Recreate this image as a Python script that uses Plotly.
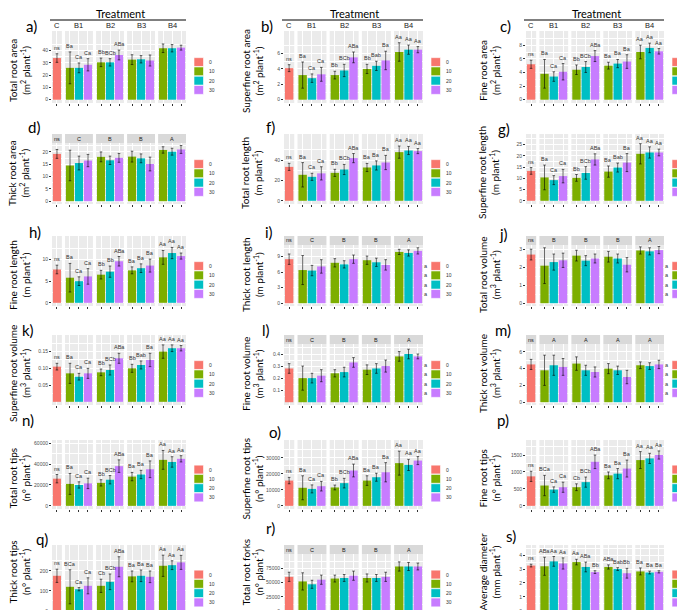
import plotly.graph_objects as go

W, H = 685, 610
DOSES = ["0", "10", "20", "30"]
COLORS = ["#F8766D", "#7CAE00", "#00BFC4", "#C77CFF"]
GROUPS = ["C", "B1", "B2", "B3", "B4"]

# order of values: C(0); B1(10,20,30); B2(10,20,30); B3(10,20,30); B4(10,20,30)
a_mean = [34, 26, 26, 28.5, 30.5, 30.5, 36.5, 32.7, 33, 32, 42, 42, 42.5]
a_err = [3.5, 13, 4, 5, 3.5, 3, 4, 4, 3, 4.5, 3.5, 3, 2]
a_lab = ["ns", "Ba", "Ca", "Ca", "Bb", "BCb", "ABa", "", "", "", "", "", ""]

b_mean = [4.1, 3.2, 2.8, 3.3, 3.2, 3.8, 5.5, 4.0, 4.4, 5.1, 6.2, 6.5, 6.5]
b_err = [0.45, 1.7, 0.55, 0.9, 0.5, 0.8, 0.7, 0.6, 0.6, 1.2, 1.2, 0.6, 0.4]
b_lab = ["ns", "Ba", "Ca", "Ca", "Bb", "BCb", "ABa", "Bb", "Bab", "Ba", "Aa", "Aa", "Aa"]

c_mean = [5.2, 3.8, 3.4, 4.1, 4.4, 4.8, 6.4, 5.0, 5.3, 5.6, 7.0, 7.6, 7.1]
c_err = [0.6, 2.1, 0.7, 1.2, 0.7, 0.8, 0.8, 0.5, 0.6, 1.0, 1.0, 0.7, 0.4]
c_lab = ["ns", "Ba", "Ca", "Ca", "Bb", "BCb", "ABa", "Ba", "Ba", "Ba", "Aa", "Aa", "Aa"]

d_mean = [19.2, 14.5, 15.5, 16.5, 18, 16.6, 17.6, 18.1, 17.4, 15.1, 20.8, 20.1, 21]
d_err = [1.8, 6.2, 2.8, 2.5, 2, 1.7, 1.8, 2.2, 1.8, 2.8, 1.3, 1.4, 1.6]
d_strip = ["ns", "C", "B", "B", "A"]

f_mean = [33.4, 25.6, 23.6, 27, 27.5, 30.8, 42, 32.8, 34.8, 37.7, 47.9, 49.5, 48.9]
f_err = [3.5, 12, 3.5, 6.5, 3.5, 5, 4.5, 4, 4.5, 7, 6, 4, 2.5]
f_lab = ["ns", "Ba", "Ca", "Ca", "Bb", "BCb", "ABa", "Ba", "Ba", "Ba", "Aa", "Aa", "Aa"]

g_mean = [13.3, 10.4, 9.2, 11, 10.2, 12.4, 18.4, 13, 14.8, 17, 20.9, 21.5, 21.5]
g_err = [1.5, 5.5, 2, 3, 1.5, 2.8, 2.5, 2.5, 2, 4, 4.5, 2.5, 1.5]
g_lab = ["ns", "Ba", "Ca", "Ca", "Bb", "BCb", "ABa", "Ba", "Bab", "Ba", "Aa", "Aa", "Aa"]

h_mean = [7.7, 5.8, 5.0, 6.1, 6.5, 7.2, 9.6, 7.5, 8.0, 8.6, 10.5, 11.5, 10.8]
h_err = [1, 3.3, 1, 1.8, 1, 1.3, 1.1, 0.8, 1, 1.5, 1.6, 1.3, 0.7]
h_lab = ["ns", "Ba", "Ca", "Ca", "Bb", "Bb", "ABa", "Ba", "Ba", "Ba", "Aa", "Aa", "Aa"]

i_mean = [8.5, 6.4, 6.3, 7.1, 7.8, 7.5, 8.5, 8.3, 7.9, 7.4, 9.9, 9.7, 10.1]
i_err = [1, 2.8, 1, 1.3, 0.8, 0.7, 0.8, 0.8, 0.8, 1, 0.5, 0.6, 0.6]
i_strip = ["ns", "C", "B", "B", "A"]

j_mean = [2.72, 2.1, 2.3, 2.4, 2.66, 2.38, 2.5, 2.6, 2.5, 2.15, 2.95, 2.9, 2.97]
j_err = [0.3, 1.0, 0.45, 0.4, 0.3, 0.28, 0.25, 0.3, 0.25, 0.4, 0.2, 0.2, 0.2]
j_strip = ["ns", "B", "B", "B", "A"]

k_mean = [0.105, 0.085, 0.075, 0.085, 0.088, 0.095, 0.13, 0.10, 0.11, 0.125, 0.15, 0.16, 0.16]
k_err = [0.01, 0.03, 0.01, 0.015, 0.01, 0.015, 0.015, 0.012, 0.012, 0.02, 0.02, 0.01, 0.008]
k_lab = ["ns", "Ba", "Ca", "Ca", "Bb", "BCb", "ABa", "Bb", "Bab", "Ba", "Aa", "Aa", "Aa"]

l_mean = [0.28, 0.2, 0.2, 0.22, 0.24, 0.25, 0.33, 0.27, 0.28, 0.3, 0.38, 0.4, 0.38]
l_err = [0.04, 0.1, 0.04, 0.05, 0.03, 0.04, 0.04, 0.04, 0.04, 0.05, 0.04, 0.04, 0.02]
l_strip = ["ns", "C", "B", "B", "A"]

m_mean = [4.5, 3.8, 4.4, 4.2, 4.6, 3.8, 3.6, 4.0, 3.8, 3.0, 4.4, 4.3, 4.5]
m_err = [0.6, 1.8, 1.2, 1.0, 0.8, 0.6, 0.6, 0.6, 0.5, 0.8, 0.4, 0.4, 0.5]
m_strip = ["ns", "A", "A", "A", "A"]

n_mean = [26000, 21000, 20000, 21500, 22000, 25000, 38000, 28000, 30000, 35000, 44000, 42000, 45000]
n_err = [4000, 10000, 3000, 5000, 3000, 4000, 6000, 4000, 4000, 8000, 9000, 5000, 3000]
n_lab = ["ns", "Ba", "Ca", "Ca", "Bb", "BCb", "ABa", "Ba", "Ba", "Ba", "Aa", "Aa", "Aa"]

o_mean = [15800, 11300, 10600, 12300, 11500, 14200, 22100, 15800, 17900, 21000, 26700, 25600, 28300]
o_err = [2000, 7500, 2500, 3000, 1500, 3000, 4000, 3000, 2500, 6000, 7500, 3500, 2500]
o_lab = ["ns", "Ba", "Ca", "Ca", "Bb", "BCb", "ABa", "Ba", "Ba", "Ba", "Aa", "Aa", "Aa"]

p_mean = [870, 600, 480, 550, 550, 700, 1300, 900, 950, 1100, 1350, 1400, 1500]
p_err = [150, 300, 80, 150, 100, 150, 200, 100, 150, 250, 250, 150, 120]
p_lab = ["ns", "BCa", "Ca", "Ca", "Cb", "BCb", "ABa", "Ba", "Ba", "Ba", "Aa", "Aa", "Aa"]

q_mean = [175, 120, 108, 125, 125, 145, 220, 172, 175, 170, 225, 228, 242]
q_err = [33, 85, 8, 40, 33, 39, 50, 27, 29, 29, 53, 22, 35]
q_lab = ["ns", "BCa", "Ca", "Ca", "Cb", "BCb", "ABa", "Ba", "Ba", "Ba", "Aa", "Aa", "Aa"]

r_mean = [60000, 52000, 47000, 55000, 57000, 58000, 62000, 58000, 58000, 60000, 78000, 78000, 78000]
r_err = [8000, 15000, 7000, 8000, 6000, 6000, 8000, 7000, 6000, 8000, 8000, 7000, 6000]
r_strip = ["ns", "C", "B", "B", "A"]

s_mean = [3.25, 3.2, 3.55, 3.4, 3.5, 3.15, 2.78, 3.15, 3.0, 2.7, 2.83, 2.75, 2.8]
s_err = [0.1, 0.65, 0.35, 0.4, 0.2, 0.35, 0.1, 0.15, 0.1, 0.35, 0.25, 0.1, 0.08]
s_lab = ["ns", "ABa", "Aa", "Aa", "Aa", "ABa", "Bb", "ABa", "Bab", "Bb", "Ba", "Ba", "Ba"]

A2 = "(m<sup>2</sup> plant<sup>-1</sup>)"
A3 = "(m<sup>3</sup> plant<sup>-1</sup>)"
LEN = "(m plant<sup>-1</sup>)"
NUM = "(n° plant<sup>-1</sup>)"

panels = [
    dict(tag="a)", t1="Total root area", t2=A2, mean=a_mean, err=a_err, lab=a_lab, ticks=[0, 10, 20, 30, 40], M=53.4),
    dict(tag="b)", t1="Superfine root area", t2=A2, mean=b_mean, err=b_err, lab=b_lab, ticks=[0, 2, 4, 6], M=8.5),
    dict(tag="c)", t1="Fine root area", t2=A2, mean=c_mean, err=c_err, lab=c_lab, ticks=[0, 2, 4, 6, 8], M=9.6),
    dict(tag="d)", t1="Thick root area", t2=A2, mean=d_mean, err=d_err, strip=d_strip, ticks=[0, 5, 10, 15, 20], M=22.5),
    dict(tag="f)", t1="Total root length", t2=LEN, mean=f_mean, err=f_err, lab=f_lab, ticks=[0, 20, 40], M=62.6),
    dict(tag="g)", t1="Superfine root length", t2=LEN, mean=g_mean, err=g_err, lab=g_lab, ticks=[0, 5, 10, 15, 20, 25], M=28.3),
    dict(tag="h)", t1="Fine root length", t2=LEN, mean=h_mean, err=h_err, lab=h_lab, ticks=[0, 5, 10], M=14.7),
    dict(tag="i)", t1="Thick root length", t2=LEN, mean=i_mean, err=i_err, strip=i_strip, ticks=[0, 3, 6, 9], M=10.7, amark=True),
    dict(tag="j)", t1="Total root volume", t2=A3, mean=j_mean, err=j_err, strip=j_strip, ticks=[0, 1, 2, 3], M=3.1, amark=True),
    dict(tag="k)", t1="Superfine root volume", t2=A3, mean=k_mean, err=k_err, lab=k_lab, ticks=[0.05, 0.10, 0.15], M=0.19, fmt=".2f"),
    dict(tag="l)", t1="Fine root volume", t2=A3, mean=l_mean, err=l_err, strip=l_strip, ticks=[0.1, 0.2, 0.3, 0.4], M=0.46, fmt=".1f", amark=True),
    dict(tag="m)", t1="Thick root volume", t2=A3, mean=m_mean, err=m_err, strip=m_strip, ticks=[0, 2, 4, 6], M=6.6, amark=True),
    dict(tag="n)", t1="Total root tips", t2=NUM, mean=n_mean, err=n_err, lab=n_lab, ticks=[0, 20000, 40000, 60000], M=60000),
    dict(tag="o)", t1="Superfine root tips", t2=NUM, mean=o_mean, err=o_err, lab=o_lab, ticks=[0, 10000, 20000, 30000], M=39200),
    dict(tag="p)", t1="Fine root tips", t2=NUM, mean=p_mean, err=p_err, lab=p_lab, ticks=[0, 500, 1000, 1500], M=1850),
    dict(tag="q)", t1="Thick root tips", t2=NUM, mean=q_mean, err=q_err, lab=q_lab, ticks=[0, 100, 200], M=313),
    dict(tag="r)", t1="Total root forks", t2=NUM, mean=r_mean, err=r_err, strip=r_strip, ticks=[0, 25000, 50000, 75000], M=95000),
    dict(tag="s)", t1="Average diameter", t2="(mm plant<sup>-1</sup>)", mean=s_mean, err=s_err, lab=s_lab, ticks=[0, 1, 2, 3, 4], M=4.5),
]

# ---- layout geometry (pixels) ----
COL_X = [(44, 178), (276, 415), (518, 656)]
ROW_Y = [(23, 95), (126, 196), (228, 298), (327, 397), (432, 501), (537, 606)]
TITLE_DY = [4, 4, 4, 4, 4, -7]
TAG_POS = [(23, 18), (259, 18), (497, 18), (26, 119), (262, 119), (496, 121),
           (27, 224), (261, 224), (495, 226), (20, 322), (258, 322), (495, 322),
           (20, 412), (267, 424), (495, 412), (34, 531), (262, 520), (503, 528)]
TITLE_X = [11, 244, 481]
STRIP_H = 9

PAD, GAP = 0.55, 0.35
facets = [(-PAD, PAD)]
positions = [0.0]
cur = PAD + GAP
for b in range(4):
    facets.append((cur, cur + 2 + 2 * PAD))
    positions += [cur + PAD, cur + PAD + 1, cur + PAD + 2]
    cur += 2 + 2 * PAD + GAP
XR = (-PAD, facets[-1][1])


def px(x):
    return x / W


def py(y):
    return 1 - y / H


fig = go.Figure()
shapes = []
annotations = []
FONT = "Liberation Sans"
TFONT = "Lato"

for k, p in enumerate(panels):
    n = k + 1
    row, col = divmod(k, 3)
    cx0, cx1 = COL_X[col]
    gy0, gy1 = ROW_Y[row]
    has_strip = "strip" in p
    top = gy0 + (STRIP_H if has_strip else 0)
    M = p["M"]
    yr = [-0.05 * M, 1.05 * M]

    def xpix(x):
        return cx0 + (x - XR[0]) / (XR[1] - XR[0]) * (cx1 - cx0)

    # facet backgrounds
    for fi, (f0, f1) in enumerate(facets):
        shapes.append(dict(type="rect", xref="paper", yref="paper", layer="below",
                           x0=px(xpix(f0)), x1=px(xpix(f1)), y0=py(gy1), y1=py(top),
                           fillcolor="#EBEBEB", line=dict(width=0)))
        if has_strip:
            shapes.append(dict(type="rect", xref="paper", yref="paper", layer="below",
                               x0=px(xpix(f0)), x1=px(xpix(f1)), y0=py(top), y1=py(gy0),
                               fillcolor="#D9D9D9", line=dict(width=0)))
            annotations.append(dict(xref="paper", yref="paper", x=px((xpix(f0) + xpix(f1)) / 2),
                                    y=py((gy0 + top) / 2), text=p["strip"][fi], showarrow=False,
                                    font=dict(size=5.5, color="#1A1A1A", family=FONT),
                                    xanchor="center", yanchor="middle"))
        if row == 0:
            annotations.append(dict(xref="paper", yref="paper", x=px((xpix(f0) + xpix(f1)) / 2),
                                    y=py(18), text=GROUPS[fi], showarrow=False,
                                    font=dict(size=7.5, color="#1A1A1A", family=FONT),
                                    xanchor="center", yanchor="middle"))

    # bars: one trace per dose
    for d in range(4):
        idx = [0] if d == 0 else [1 + 3 * b + (d - 1) for b in range(4)]
        fig.add_trace(go.Bar(
            x=[positions[i] for i in idx], y=[p["mean"][i] for i in idx],
            error_y=dict(type="data", array=[p["err"][i] for i in idx], color="black",
                         thickness=0.6, width=1.3),
            marker=dict(color=COLORS[d], line=dict(width=0)), width=0.9,
            name=DOSES[d], xaxis=f"x{n}", yaxis=f"y{n}", showlegend=False))

    # letters above bars
    if "lab" in p:
        for i, t in enumerate(p["lab"]):
            if t:
                annotations.append(dict(xref=f"x{n}", yref=f"y{n}", x=positions[i],
                                        y=p["mean"][i] + p["err"][i], text=t, showarrow=False,
                                        yanchor="bottom", xanchor="center", yshift=1,
                                        font=dict(size=5.5, color="#333333", family=FONT)))

    # axes
    fmt = p.get("fmt", "")
    ticktext = [format(v, fmt) if fmt else str(v) for v in p["ticks"]]
    tv = p["ticks"]
    step = tv[1] - tv[0]
    minor_vals = [v + step / 2 for v in tv] + [tv[0] - step / 2]
    fig.layout[f"xaxis{n}"] = dict(domain=[px(cx0), px(cx1)], anchor=f"y{n}", range=list(XR),
                                   tickvals=positions, showticklabels=False, ticks="outside",
                                   ticklen=2, tickwidth=0.5, tickcolor="#333333",
                                   showgrid=True, gridcolor="white", gridwidth=0.5,
                                   zeroline=False, showline=False, fixedrange=True)
    fig.layout[f"yaxis{n}"] = dict(domain=[py(gy1), py(top)], anchor=f"x{n}", range=yr,
                                   tickvals=tv, ticktext=ticktext, ticks="outside", ticklen=2,
                                   tickwidth=0.5, tickcolor="#333333",
                                   tickfont=dict(size=5, color="#4D4D4D", family=FONT),
                                   showgrid=True, gridcolor="white", gridwidth=0.7,
                                   minor=dict(tickvals=minor_vals, showgrid=True,
                                              gridcolor="white", gridwidth=0.35, ticks=""),
                                   zeroline=False, showline=False, fixedrange=True)

    # panel tag
    tx, ty = TAG_POS[k]
    annotations.append(dict(xref="paper", yref="paper", x=px(tx), y=py(ty), text=p["tag"],
                            showarrow=False, xanchor="center", yanchor="middle",
                            font=dict(size=15, color="black", family=TFONT)))
    # y title
    annotations.append(dict(xref="paper", yref="paper", x=px(TITLE_X[col]),
                            y=py((gy0 + gy1) / 2 + TITLE_DY[row]),
                            text=p["t1"] + "<br>" + p["t2"], textangle=-90, showarrow=False,
                            xanchor="center", yanchor="middle",
                            font=dict(size=10, color="black", family=TFONT)))

    # legend
    lx0 = cx1 + 8
    lcy = (gy0 + gy1) / 2 + 9
    for d in range(4):
        yc = lcy + (d - 1.5) * 9.3
        shapes.append(dict(type="rect", xref="paper", yref="paper", x0=px(lx0), x1=px(lx0 + 9.5),
                           y0=py(yc + 4.4), y1=py(yc - 4.4), fillcolor=COLORS[d],
                           line=dict(width=0.6, color="white")))
        annotations.append(dict(xref="paper", yref="paper", x=px(lx0 + 13), y=py(yc), text=DOSES[d],
                                showarrow=False, xanchor="left", yanchor="middle",
                                font=dict(size=5, color="#333333", family=FONT)))
        if p.get("amark"):
            annotations.append(dict(xref="paper", yref="paper", x=px(lx0 - 5), y=py(yc), text="a",
                                    showarrow=False, xanchor="center", yanchor="middle",
                                    font=dict(size=5.5, color="#333333", family=FONT)))

# "Treatment" headers on top row
for col in range(3):
    cx0, cx1 = COL_X[col]
    annotations.append(dict(xref="paper", yref="paper", x=px((cx0 + cx1) / 2 + 1), y=py(5),
                            text="Treatment", showarrow=False, xanchor="center", yanchor="middle",
                            font=dict(size=11, color="black", family=TFONT)))
    shapes.append(dict(type="line", xref="paper", yref="paper", x0=px(cx0 - 2), x1=px(cx1),
                       y0=py(12), y1=py(12), line=dict(color="black", width=1)))

fig.update_layout(width=W, height=H, autosize=False, margin=dict(l=0, r=0, t=0, b=0),
                  paper_bgcolor="white", plot_bgcolor="rgba(0,0,0,0)", barmode="overlay",
                  showlegend=False, shapes=shapes, annotations=annotations,
                  font=dict(family=FONT))
fig.write_html("out.html")
